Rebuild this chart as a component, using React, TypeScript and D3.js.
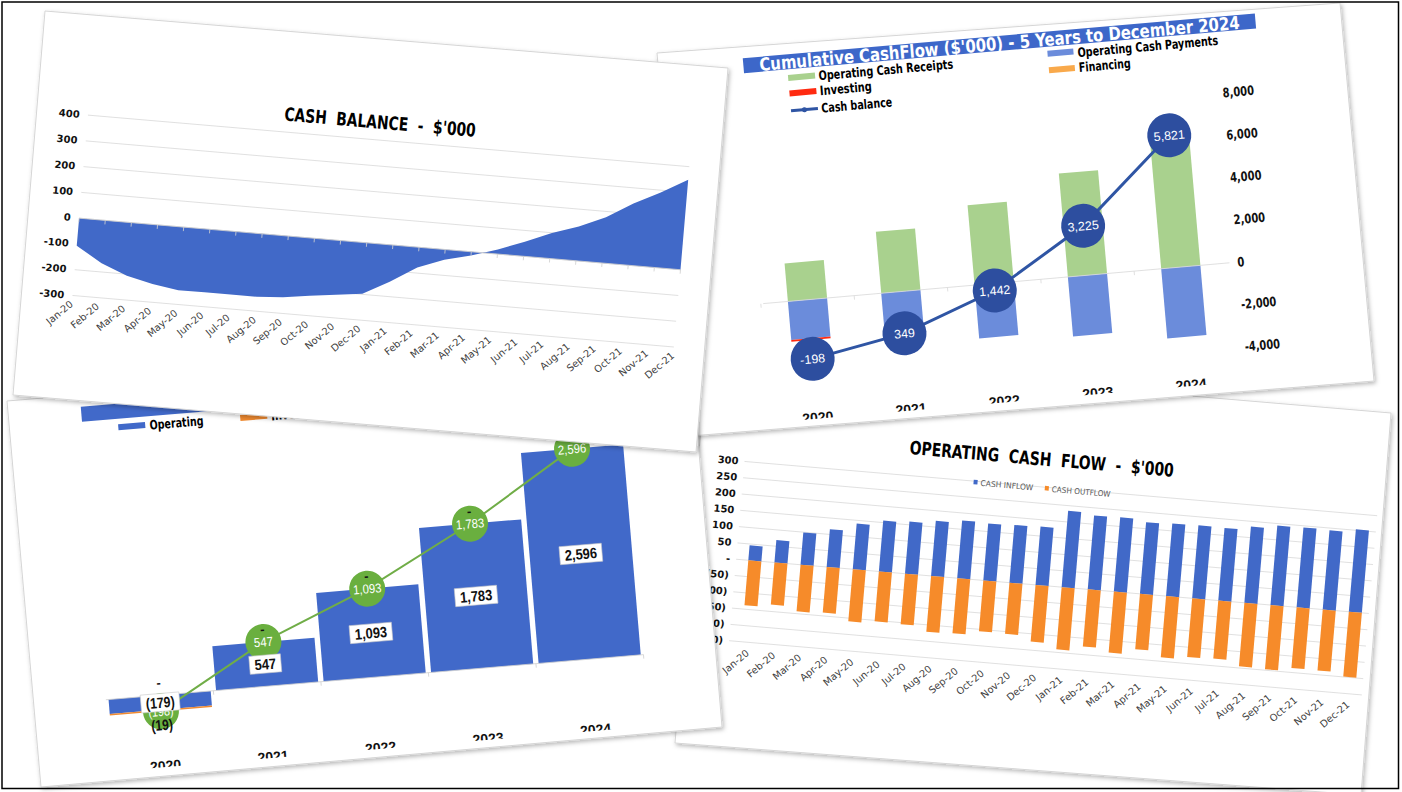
import React from 'react';
import * as d3 from 'd3';

// ---------- DATA ----------
const months = ['Jan-20','Feb-20','Mar-20','Apr-20','May-20','Jun-20','Jul-20','Aug-20','Sep-20','Oct-20','Nov-20','Dec-20','Jan-21','Feb-21','Mar-21','Apr-21','May-21','Jun-21','Jul-21','Aug-21','Sep-21','Oct-21','Nov-21','Dec-21'];

const cashBalance = [-107,-166,-206,-229,-245,-244,-244,-244,-237,-223,-210,-198,-142,-78,-40,-14,18,56,99,133,178,240,291,349];
const cashBalanceTicks = [400,300,200,100,0,-100,-200,-300];

const cashInflow = [46,69,99,116,140,156,160,169,177,175,177,179,234,227,228,220,223,224,223,234,244,245,243,253];
const cashOutflow = [-138,-129,-143,-140,-160,-153,-155,-171,-169,-156,-157,-174,-191,-175,-187,-170,-188,-180,-178,-195,-197,-186,-187,-199];
const operatingTicks = [300,250,200,150,100,50,0,-50,-100,-150,-200,-250];

const years = ['2020','2021','2022','2023','2024'];
const cumReceipts = [1795,2906,3782,4889,5900];
const cumPayments = [-1823,-2250,-2520,-2817,-3292];
const cumInvesting = [-80,0,0,0,0];
const cumFinancing = [0,0,0,0,0];
const cumCashBalance = [-198,349,1442,3225,5821];
const cumTicks = [8000,6000,4000,2000,0,-2000,-4000];

const yearOperating = [-179,547,1093,1783,2596];
const yearInvesting = [-19,0,0,0,0];
const yearFinancing = [0,0,0,0,0];
const yearCash = [-198,547,1093,1783,2596];

// ---------- HELPERS ----------
const SANS = "'DejaVu Sans', Verdana, sans-serif";
const LIB = "'Liberation Sans', Arial, sans-serif";
const comma = d3.format(',');
const signed = (n: number) => (n < 0 ? '-' + comma(-n) : comma(n));
const acct = (n: number) => (n === 0 ? '-' : n < 0 ? `(${comma(-n)})` : comma(n));
// approximate rendered width of a narrow bold numeric label
const numWidth = (s: string, digit: number) =>
  s.split('').reduce((a, c) => a + (/[0-9]/.test(c) ? digit : c === '-' ? digit * 0.55 : digit * 0.5), 0);

type Pt = [number, number];
const sheetA: Pt[] = [[45,11],[728,68],[696,452],[13,395]];
const sheetB: Pt[] = [[657,53],[1340,3],[1374,381],[690,436]];
const sheetC: Pt[] = [[7,401],[690,344],[722,727],[41,787]];
const sheetD: Pt[] = [[707,355],[1391,413],[1361,795],[675,743]];

const Sheet = ({ pts }: { pts: Pt[] }) => (
  <polygon points={pts.map(p => p.join(',')).join(' ')} fill="#fff" stroke="#d6d6d6" strokeWidth={1} filter="url(#sh)" />
);

// ---------- PANEL A : CASH BALANCE ----------
function CashBalancePanel() {
  const x = d3.scalePoint<string>().domain(months).range([51.3, 654.9]);
  const y = d3.scaleLinear().domain([-300, 400]).range([281.4, 100.4]);
  const area = d3.area<number>().x((_, i) => x(months[i])!).y0(y(0)).y1(d => y(d));
  const [x0, x1] = x.range();
  return (
    <g transform="translate(45.4,10.7) rotate(4.9)">
      {cashBalanceTicks.map(t => (
        <line key={t} x1={x0} x2={x1} y1={y(t)} y2={y(t)} stroke="#d9d9d9" strokeWidth={0.8} />
      ))}
      <path d={area(cashBalance)!} fill="#4169C8" />
      <line x1={x0} x2={x1} y1={y(0)} y2={y(0)} stroke="#d0d0d0" strokeWidth={0.8} />
      {months.map(m => (
        <line key={m} x1={x(m)!} x2={x(m)!} y1={y(0)} y2={y(0) + 4} stroke="#d0d0d0" strokeWidth={0.8} />
      ))}
      {cashBalanceTicks.map(t => (
        <text key={t} x={43} y={y(t)} dy="0.35em" textAnchor="end" fontSize={10} fontWeight="bold" fill="#111">{t}</text>
      ))}
      {months.map(m => (
        <text key={m} transform={`translate(${x(m)! + 2},${291}) rotate(-45)`} textAnchor="end" fontSize={9.8} fill="#404040">{m}</text>
      ))}
      <text x={343} y={89} textAnchor="middle" fontSize={18.5} fontWeight="bold" fill="#000"
        textLength={192} lengthAdjust="spacingAndGlyphs" style={{ whiteSpace: 'pre' }}>{"CASH  BALANCE  -  $'000"}</text>
    </g>
  );
}

// ---------- PANEL D : OPERATING CASH FLOW ----------
function OperatingPanel() {
  const x = d3.scaleBand<string>().domain(months).range([51.7, 680.6]).paddingInner(0.5).paddingOuter(0.25);
  const y = d3.scaleLinear().domain([-250, 300]).range([283.3, 103.4]);
  const bw = x.bandwidth();
  return (
    <g transform="translate(707.5,354.5) rotate(4.9)">
      {operatingTicks.map(t => (
        <line key={t} x1={46} x2={681} y1={y(t)} y2={y(t)} stroke="#d9d9d9" strokeWidth={0.8} />
      ))}
      {cashInflow.map((v, i) => (
        <rect key={'i' + i} x={x(months[i])!} y={y(v)} width={bw} height={y(0) - y(v)} fill="#4169C8" />
      ))}
      {cashOutflow.map((v, i) => (
        <rect key={'o' + i} x={x(months[i])!} y={y(0)} width={bw} height={y(v) - y(0)} fill="#F68B2A" />
      ))}
      {operatingTicks.map(t => (
        <text key={t} x={40} y={y(t)} dy="0.35em" textAnchor="end" fontSize={10} fontWeight="bold" fill="#111">{acct(t)}</text>
      ))}
      <rect x={276} y={102} width={4} height={4.5} fill="#4169C8" />
      <text x={283} y={107.5} fontSize={8} fill="#595959" textLength={53} lengthAdjust="spacingAndGlyphs">CASH INFLOW</text>
      <rect x={347.5} y={102} width={4} height={4.5} fill="#F68B2A" />
      <text x={354.5} y={107.5} fontSize={8} fill="#595959" textLength={59} lengthAdjust="spacingAndGlyphs">CASH OUTFLOW</text>
      {months.map(m => (
        <text key={m} transform={`translate(${x(m)! + bw / 2 + 3},${295}) rotate(-45)`} textAnchor="end" fontSize={9.8} fill="#404040">{m}</text>
      ))}
      <text x={342} y={82} textAnchor="middle" fontSize={18.5} fontWeight="bold" fill="#000"
        textLength={265} lengthAdjust="spacingAndGlyphs" style={{ whiteSpace: 'pre' }}>{"OPERATING  CASH  FLOW  -  $'000"}</text>
    </g>
  );
}

// ---------- PANEL B : CUMULATIVE CASHFLOW ----------
function CumulativePanel() {
  const x = d3.scaleBand<string>().domain(years).range([81.6, 550]).paddingInner(0.58).paddingOuter(0.29);
  const yB = d3.scaleLinear().domain([-4000, 8000]).range([343.5, 88.8]);
  const yL = d3.scaleLinear().domain([-1000, 7000]).range([343.5, 88.8]);
  const bw = x.bandwidth();
  const cx = (i: number) => x(years[i])! + bw / 2;
  const line = d3.line<number>().x((_, i) => cx(i)).y(d => yL(d));
  const segs: { x: number; y0: number; y1: number; c: string; k: string }[] = [];
  years.forEach((yr, i) => {
    let pos = 0, neg = 0;
    const add = (v: number, c: string, k: string) => {
      if (v >= 0) { segs.push({ x: x(yr)!, y0: pos, y1: pos + v, c, k: k + i }); pos += v; }
      else { segs.push({ x: x(yr)!, y0: neg, y1: neg + v, c, k: k + i }); neg += v; }
    };
    add(cumReceipts[i], '#A9D18E', 'r');
    add(cumPayments[i], '#6B8CDB', 'p');
    add(cumInvesting[i], '#FF2A10', 'v');
    add(cumFinancing[i], '#F9A94B', 'f');
  });
  return (
    <g transform="translate(657,53.3) rotate(-5)">
      <defs>
        <clipPath id="clipB"><rect x={0} y={0} width={685} height={378} /></clipPath>
      </defs>
      <rect x={85} y={12.4} width={514} height={15} fill="#3D67C9" />
      <text x={101} y={26.5} fontSize={18} fontWeight="bold" fill="#fff" textLength={482} lengthAdjust="spacingAndGlyphs">
        {"Cumulative CashFlow ($'000) - 5 Years to December 2024"}
      </text>
      {/* legend */}
      <rect x={128.5} y={33} width={27} height={6} fill="#A9D18E" />
      <text x={159} y={41} fontSize={13} fontWeight="bold" textLength={135} lengthAdjust="spacingAndGlyphs">Operating Cash Receipts</text>
      <rect x={128.5} y={48.5} width={27} height={6} fill="#FF2A10" />
      <text x={159} y={56} fontSize={13} fontWeight="bold" textLength={52} lengthAdjust="spacingAndGlyphs">Investing</text>
      <line x1={128.5} x2={155.5} y1={69} y2={69} stroke="#2F55A4" strokeWidth={3} />
      <circle cx={142} cy={69} r={2.5} fill="#2F55A4" />
      <text x={159} y={73.5} fontSize={13} fontWeight="bold" textLength={71} lengthAdjust="spacingAndGlyphs">Cash balance</text>
      <rect x={389} y={31.5} width={26} height={6} fill="#6B8CDB" />
      <text x={419} y={40.5} fontSize={13} fontWeight="bold" textLength={141} lengthAdjust="spacingAndGlyphs">Operating Cash Payments</text>
      <rect x={389} y={48} width={26} height={6} fill="#F9A94B" />
      <text x={419} y={55.5} fontSize={13} fontWeight="bold" textLength={52} lengthAdjust="spacingAndGlyphs">Financing</text>
      {/* bars */}
      {segs.filter(s => s.y1 !== s.y0).map(s => (
        <rect key={s.k} x={s.x} width={bw} y={Math.min(yB(s.y0), yB(s.y1))} height={Math.abs(yB(s.y1) - yB(s.y0))} fill={s.c} />
      ))}
      <line x1={84} x2={552} y1={yB(0)} y2={yB(0)} stroke="#d9d9d9" strokeWidth={0.8} />
      {years.map(yr => (
        <line key={yr} x1={x(yr)! - x.step() * 0.29} x2={x(yr)! - x.step() * 0.29} y1={yB(0)} y2={yB(0) + 4} stroke="#d9d9d9" strokeWidth={0.8} />
      ))}
      {/* right axis */}
      {cumTicks.map(t => (
        <text key={t} x={560} y={yB(t)} dy="0.35em" fontSize={13} fontWeight="bold" fill="#111"
          textLength={numWidth(signed(t), 7)} lengthAdjust="spacingAndGlyphs">{signed(t)}</text>
      ))}
      {/* cash balance line */}
      <path d={line(cumCashBalance)!} fill="none" stroke="#2F55A4" strokeWidth={3} />
      {cumCashBalance.map((v, i) => (
        <g key={i}>
          <circle cx={cx(i)} cy={yL(v)} r={22} fill="#2D4E9F" />
          <text x={cx(i)} y={yL(v)} dy="0.36em" textAnchor="middle" fontSize={12.5} fill="#fff" fontFamily={LIB}>{signed(v)}</text>
        </g>
      ))}
      <g clipPath="url(#clipB)">
        {years.map((yr, i) => (
          <text key={yr} x={cx(i)} y={381.5} textAnchor="middle" fontSize={14} fontWeight="bold" fill="#111" fontFamily={LIB}>{yr}</text>
        ))}
      </g>
    </g>
  );
}

// ---------- PANEL C : ANNUAL CASH ----------
function AnnualPanel() {
  const x = d3.scaleBand<string>().domain(years).range([73.5, 613]).paddingInner(0.05).paddingOuter(0.025);
  const y = d3.scaleLinear().domain([-500, 3000]).range([346.65, 62.1]);
  const bw = x.bandwidth();
  const cx = (i: number) => x(years[i])! + bw / 2;
  const line = d3.line<number>().x((_, i) => cx(i)).y(d => y(d));
  return (
    <g transform="translate(7,401) rotate(-4.8)">
      <defs>
        <clipPath id="clipC"><rect x={0} y={0} width={685} height={378} /></clipPath>
      </defs>
      <rect x={73} y={12} width={517} height={15} fill="#4169C9" />
      <rect x={108.7} y={32.5} width={27} height={6} fill="#4169C9" />
      <text x={140} y={40.5} fontSize={13} fontWeight="bold" textLength={54} lengthAdjust="spacingAndGlyphs">Operating</text>
      <rect x={231} y={33.4} width={27} height={6} fill="#F08A30" />
      <text x={262} y={41.5} fontSize={13} fontWeight="bold" textLength={52} lengthAdjust="spacingAndGlyphs">Investing</text>
      {/* bars */}
      {yearOperating.map((v, i) => (
        <rect key={'op' + i} x={x(years[i])!} width={bw} y={Math.min(y(0), y(v))} height={Math.abs(y(v) - y(0))} fill="#4169C9" />
      ))}
      {yearInvesting.map((v, i) => {
        const base = v < 0 ? Math.min(0, yearOperating[i]) : Math.max(0, yearOperating[i]);
        return v === 0 ? null : (
          <rect key={'iv' + i} x={x(years[i])!} width={bw} y={Math.min(y(base), y(base + v))} height={Math.abs(y(base + v) - y(base))} fill="#F08A30" />
        );
      })}
      <line x1={73.5} x2={613} y1={y(0)} y2={y(0)} stroke="#d0d0d0" strokeWidth={0.8} />
      {years.map(yr => (
        <line key={yr} x1={x(yr)! + bw + x.step() * 0.025} x2={x(yr)! + bw + x.step() * 0.025} y1={y(0)} y2={y(0) + 4} stroke="#d0d0d0" strokeWidth={0.8} />
      ))}
      {/* line + circles */}
      <path d={line(yearCash)!} fill="none" stroke="#70AD47" strokeWidth={2} />
      {yearCash.map((v, i) => (
        <g key={'c' + i}>
          <circle cx={cx(i)} cy={y(v)} r={18} fill="#6AAF3F" />
          <text x={cx(i)} y={y(v)} dy="0.36em" textAnchor="middle" fontSize={13} fill="#fff" fontFamily={LIB}
            textLength={numWidth(acct(v), 6.3)} lengthAdjust="spacingAndGlyphs">{acct(v)}</text>
        </g>
      ))}
      {/* value boxes */}
      {yearOperating.map((v, i) => {
        const lab = acct(v);
        const tw = numWidth(lab, 7.2);
        const w = tw + 10;
        const mid = (y(0) + y(v)) / 2;
        return (
          <g key={'b' + i}>
            <rect x={cx(i) - w / 2} y={mid - 9} width={w} height={18} fill="#fff" stroke="#c8c8c8" strokeWidth={0.6} />
            <text x={cx(i)} y={mid} dy="0.36em" textAnchor="middle" fontSize={15} fontWeight="bold" fill="#111" fontFamily={LIB}
              textLength={tw} lengthAdjust="spacingAndGlyphs">{lab}</text>
          </g>
        );
      })}
      {/* financing '-' labels */}
      {yearFinancing.map((v, i) => (
        <text key={'f' + i} x={cx(i)} y={y(Math.max(0, yearOperating[i])) - 8} textAnchor="middle" fontSize={13} fontWeight="bold" fill="#111" fontFamily={LIB}>{acct(v)}</text>
      ))}
      {/* investing labels */}
      {yearInvesting.map((v, i) => v === 0 ? null : (
        <text key={'il' + i} x={cx(i)} y={y(Math.min(0, yearOperating[i]) + v) + 19} textAnchor="middle" fontSize={15} fontWeight="bold" fill="#111" fontFamily={LIB}
          textLength={numWidth(acct(v), 7.2)} lengthAdjust="spacingAndGlyphs">{acct(v)}</text>
      ))}
      <g clipPath="url(#clipC)">
        {years.map((yr, i) => (
          <text key={yr} x={cx(i)} y={381.5} textAnchor="middle" fontSize={14} fontWeight="bold" fill="#111" fontFamily={LIB}>{yr}</text>
        ))}
      </g>
    </g>
  );
}

export default function App() {
  return (
    <svg width={1402} height={792} style={{ position: 'absolute', left: 0, top: 0, background: '#fff' }} fontFamily={SANS}>
      <defs>
        <filter id="sh" x="-5%" y="-5%" width="112%" height="115%">
          <feDropShadow dx="1.5" dy="2" stdDeviation="2" floodColor="#000" floodOpacity="0.28" />
        </filter>
      </defs>
      <rect width={1402} height={792} fill="#fff" />
      <Sheet pts={sheetD} />
      <OperatingPanel />
      <Sheet pts={sheetB} />
      <CumulativePanel />
      <Sheet pts={sheetC} />
      <AnnualPanel />
      <Sheet pts={sheetA} />
      <CashBalancePanel />
      <rect x={2} y={2} width={1396.5} height={786.5} fill="none" stroke="#000" strokeWidth={1.5} />
    </svg>
  );
}
